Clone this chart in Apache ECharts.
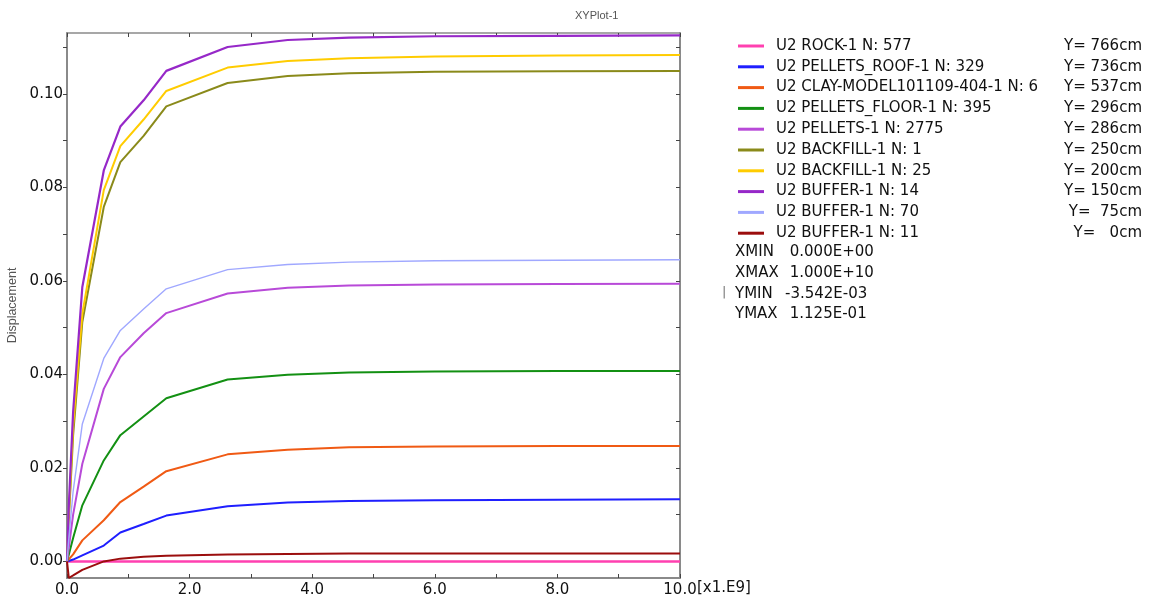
<!DOCTYPE html>
<html>
<head>
<meta charset="utf-8">
<script src="https://cdn.jsdelivr.net/npm/echarts@6/dist/echarts.min.js"></script>
<style>html,body{margin:0;padding:0;background:#fff;}#c{width:1152px;height:601px;}</style>
</head>
<body>
<div id="c"></div>
<script>
// time points (x1.E9)
const times = [0, 0.03, 0.1, 0.25, 0.6, 0.87, 1.25, 1.62, 2.62, 3.6, 4.6, 6, 8, 10];
// displacement values per curve
const rock1 = [0, 0, 0, 0, 0, 0, 0, 0, 0, 0, 0, 0, 0, 0];
const pelletsRoof = [0, 0.0001, 0.0004, 0.0013, 0.0034, 0.0062, 0.0080, 0.0098, 0.0118, 0.0126, 0.0129, 0.0131, 0.0132, 0.0133];
const clayModel = [0, 0.0004, 0.0015, 0.0045, 0.0088, 0.0127, 0.0160, 0.0193, 0.0229, 0.0239, 0.0244, 0.0246, 0.0247, 0.0247];
const pelletsFloor = [0, 0.0015, 0.005, 0.012, 0.0216, 0.0270, 0.0310, 0.0349, 0.0389, 0.0399, 0.0404, 0.0406, 0.0407, 0.0407];
const pellets = [0, 0.003, 0.010, 0.0209, 0.0369, 0.0437, 0.0488, 0.0531, 0.0573, 0.0585, 0.0590, 0.0592, 0.0593, 0.0594];
const backfill1 = [0, 0.009, 0.027, 0.0512, 0.0758, 0.0854, 0.0910, 0.0973, 0.1023, 0.1038, 0.1044, 0.1047, 0.1048, 0.1049];
const backfill25 = [0, 0.010, 0.029, 0.053, 0.0794, 0.0888, 0.0945, 0.1006, 0.1056, 0.1070, 0.1076, 0.1080, 0.1082, 0.1083];
const buffer14 = [0, 0.012, 0.032, 0.0587, 0.0836, 0.0930, 0.0986, 0.1049, 0.1100, 0.1115, 0.1120, 0.1123, 0.1124, 0.1125];
const buffer70 = [0, 0.005, 0.015, 0.0294, 0.0434, 0.0494, 0.0540, 0.0583, 0.0624, 0.0635, 0.0640, 0.0643, 0.0644, 0.0645];
const buffer11 = [0, -0.00354, -0.0030, -0.0018, 0.0000, 0.0006, 0.0010, 0.0012, 0.0015, 0.0016, 0.0017, 0.0017, 0.0017, 0.0017];

const seriesNames = [
  'U2 ROCK-1 N: 577',
  'U2 PELLETS_ROOF-1 N: 329',
  'U2 CLAY-MODEL101109-404-1 N: 6',
  'U2 PELLETS_FLOOR-1 N: 395',
  'U2 PELLETS-1 N: 2775',
  'U2 BACKFILL-1 N: 1',
  'U2 BACKFILL-1 N: 25',
  'U2 BUFFER-1 N: 14',
  'U2 BUFFER-1 N: 70',
  'U2 BUFFER-1 N: 11'
];
const seriesY = ['Y= 766cm', 'Y= 736cm', 'Y= 537cm', 'Y= 296cm', 'Y= 286cm', 'Y= 250cm', 'Y= 200cm', 'Y= 150cm', 'Y=  75cm', 'Y=   0cm'];
const seriesValues = [rock1, pelletsRoof, clayModel, pelletsFloor, pellets, backfill1, backfill25, buffer14, buffer70, buffer11];
const seriesColors = ['#ff40b0', '#1f1fff', '#f05a14', '#139013', '#b84ad8', '#8a8a1a', '#ffcc00', '#9628c8', '#a0a8ff', '#9b0d0d'];
const seriesWidths = [2.5, 2, 2, 2, 2, 2, 2, 2.2, 1.4, 2];

const xTickLabels = [0, 2, 4, 6, 8, 10];
const xTicks = [0, 1, 2, 3, 4, 5, 6, 7, 8, 9, 10];
const yTickLabels = [0, 0.02, 0.04, 0.06, 0.08, 0.10];
const yTicks = [0, 0.01, 0.02, 0.03, 0.04, 0.05, 0.06, 0.07, 0.08, 0.09, 0.10, 0.11];
const statLabels = ['XMIN', 'XMAX', 'YMIN', 'YMAX'];
const statValues = [' 0.000E+00', ' 1.000E+10', '-3.542E-03', ' 1.125E-01'];

const FONT = 'DejaVu Sans';
const axisCol = '#8a8a8a';

const chart = echarts.init(document.getElementById('c'), null, {renderer: 'canvas'});

const yLookup = {};
seriesNames.forEach((n, i) => { yLookup[n] = seriesY[i]; });

const graphics = [];
statLabels.forEach((l, i) => {
  graphics.push({type: 'text', left: 735, top: 245 + i * 20.6,
    style: {text: l, font: '15px "DejaVu Sans"', fill: '#111'}});
  graphics.push({type: 'text', left: 785, top: 245 + i * 20.6,
    style: {text: statValues[i], font: '15px "DejaVu Sans"', fill: '#111'}});
});
graphics.push({type: 'text', left: 722, top: 286, style: {text: '|', font: '13px "DejaVu Sans"', fill: '#777'}});
graphics.push({type: 'text', left: 697, top: 581, style: {text: '[x1.E9]', font: '15px "DejaVu Sans"', fill: '#111'}});

const option = {
  backgroundColor: '#fff',
  animation: false,
  title: {text: 'XYPlot-1', left: 570, top: 5,
    textStyle: {fontFamily: 'Liberation Sans', fontSize: 11, fontWeight: 'normal', color: '#555'}},
  grid: {left: 67, right: 472, top: 33, bottom: 23, containLabel: false, outerBoundsMode: 'none'},
  legend: {
    orient: 'vertical', left: 733, top: 33,
    icon: 'rect', itemWidth: 26, itemHeight: 3, itemGap: 4.8,
    data: seriesNames,
    formatter: n => '{n|' + n + '}{y|' + yLookup[n] + '}',
    textStyle: {
      fontFamily: FONT, fontSize: 15, color: '#111', padding: [0, 0, 0, 7], lineHeight: 16,
      rich: {
        n: {fontFamily: FONT, fontSize: 15, color: '#111', width: 288, lineHeight: 16},
        y: {fontFamily: FONT, fontSize: 15, color: '#111', width: 78, align: 'right', lineHeight: 16}
      }
    }
  },
  xAxis: [{
    type: 'value', min: 0, max: 10, position: 'bottom',
    axisLine: {show: true, onZero: false, lineStyle: {color: axisCol, width: 2}},
    axisTick: {show: true, inside: true, length: 4, customValues: xTicks, lineStyle: {color: '#444'}},
    axisLabel: {customValues: xTickLabels, formatter: v => v.toFixed(1), fontFamily: FONT, fontSize: 15, color: '#111', margin: 5},
    splitLine: {show: false}
  }, {
    type: 'value', min: 0, max: 10, position: 'top',
    axisLine: {show: true, onZero: false, lineStyle: {color: axisCol, width: 1.5}},
    axisTick: {show: true, inside: true, length: 4, customValues: xTicks, lineStyle: {color: '#444'}},
    axisLabel: {show: false}, splitLine: {show: false}
  }],
  yAxis: [{
    type: 'value', min: -0.003542, max: 0.1130, position: 'left',
    name: 'Displacement', nameLocation: 'middle', nameGap: 44,
    nameTextStyle: {fontFamily: 'Liberation Sans', fontSize: 12.5, color: '#555'},
    axisLine: {show: true, onZero: false, lineStyle: {color: axisCol, width: 2}},
    axisTick: {show: true, inside: false, length: 4, customValues: yTicks, lineStyle: {color: '#444'}},
    axisLabel: {customValues: yTickLabels, formatter: v => v.toFixed(2), fontFamily: FONT, fontSize: 15, color: '#111', margin: 4},
    splitLine: {show: false}
  }, {
    type: 'value', min: -0.003542, max: 0.1130, position: 'right',
    axisLine: {show: true, onZero: false, lineStyle: {color: axisCol, width: 2}},
    axisTick: {show: true, inside: true, length: 4, customValues: yTicks, lineStyle: {color: '#444'}},
    axisLabel: {show: false}, splitLine: {show: false}
  }],
  series: seriesNames.map((n, i) => ({
    name: n, type: 'line', xAxisIndex: 0, yAxisIndex: 0,
    showSymbol: false, symbol: 'none', smooth: false,
    color: seriesColors[i],
    lineStyle: {color: seriesColors[i], width: seriesWidths[i]},
    data: times.map((t, k) => [t, seriesValues[i][k]])
  })),
  graphic: graphics
};
chart.setOption(option);
</script>
</body>
</html>
